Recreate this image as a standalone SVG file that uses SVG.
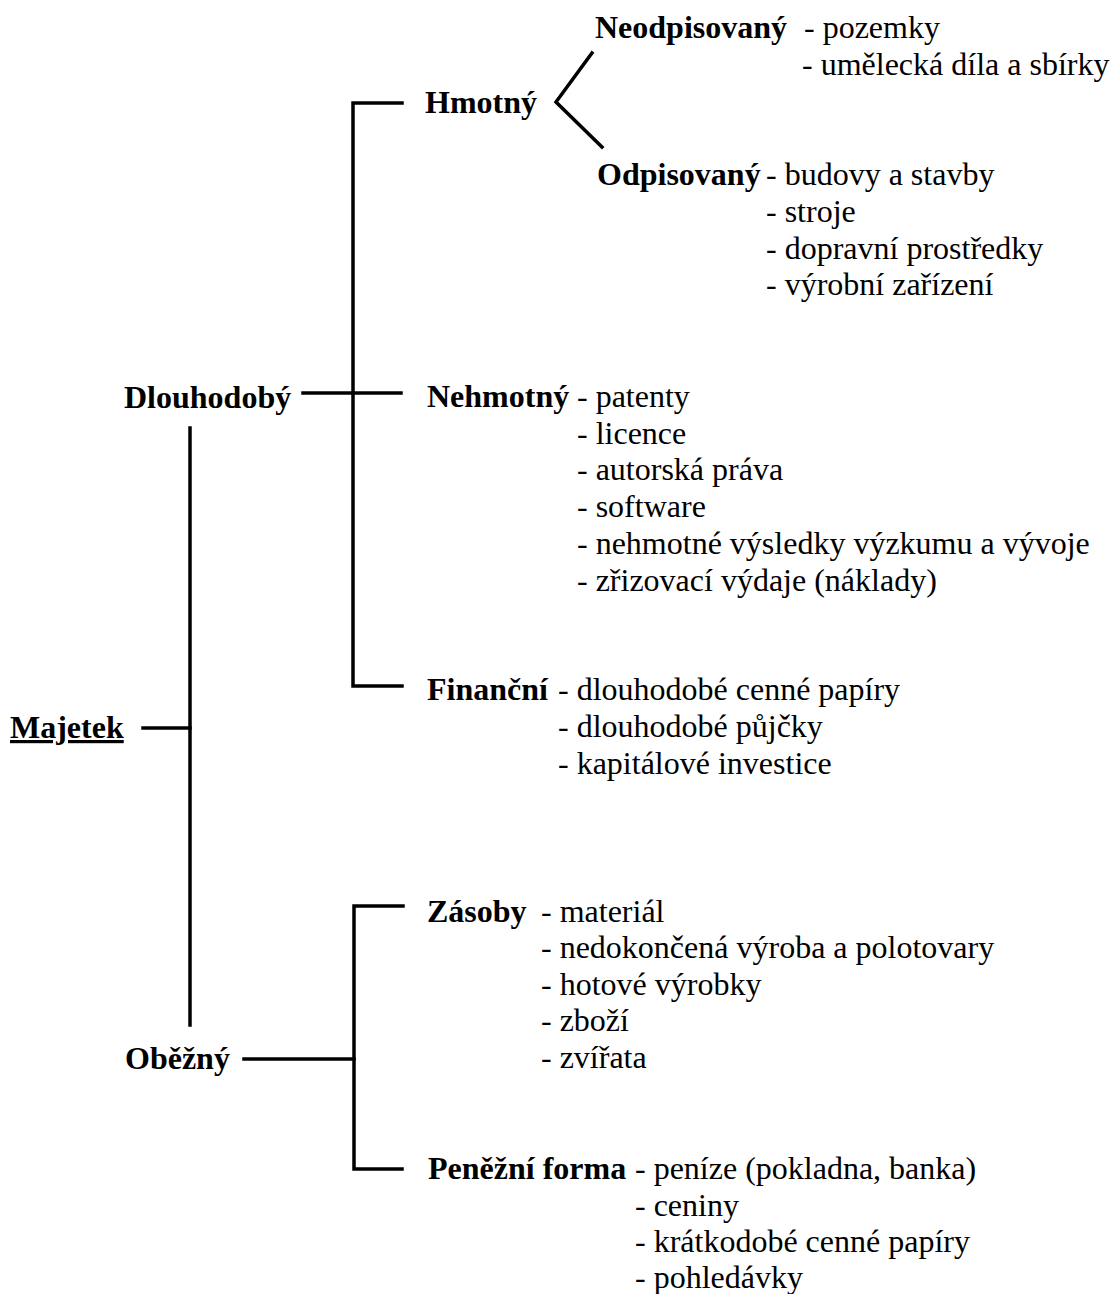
<svg xmlns="http://www.w3.org/2000/svg" width="1112" height="1294" viewBox="0 0 1112 1294">
<style>
text{font-family:"Liberation Serif","Times New Roman",serif;font-size:32px;fill:#000}
.b{font-weight:bold}
.c line,.c polyline{stroke:#000;stroke-width:3.5;fill:none;stroke-linecap:square}
</style>
<rect width="1112" height="1294" fill="#fff"/>
<g class="c" id="connectors">
<line x1="190" y1="428" x2="190" y2="1025"/>
<line x1="143" y1="728" x2="190" y2="728"/>
<line x1="303" y1="393" x2="401" y2="393"/>
<polyline points="402,103 353,103 353,686 402,686"/>
<polyline points="592,53 556,102 602,147"/>
<line x1="244" y1="1059" x2="354" y2="1059"/>
<polyline points="403,906 354,906 354,1169 402,1169"/>
</g>
<g id="majetek"><text x="10" y="738" class="b" text-decoration="underline">Majetek</text></g>
<g id="dlouhodoby"><text x="124" y="408" class="b">Dlouhodobý</text></g>
<g id="obezny"><text x="125" y="1069" class="b">Oběžný</text></g>
<g id="hmotny"><text x="425" y="113" class="b">Hmotný</text></g>
<g id="neodpisovany">
<text x="595" y="38" class="b">Neodpisovaný</text>
<text x="804" y="38">- pozemky</text>
<text x="802" y="75">- umělecká díla a sbírky</text>
</g>
<g id="odpisovany">
<text x="597" y="185" class="b">Odpisovaný</text>
<text x="766" y="185">- budovy a stavby</text>
<text x="766" y="222">- stroje</text>
<text x="766" y="259">- dopravní prostředky</text>
<text x="766" y="295">- výrobní zařízení</text>
</g>
<g id="nehmotny">
<text x="427" y="407" class="b">Nehmotný</text>
<text x="577" y="407">- patenty</text>
<text x="577" y="444">- licence</text>
<text x="577" y="480">- autorská práva</text>
<text x="577" y="517">- software</text>
<text x="577" y="554">- nehmotné výsledky výzkumu a vývoje</text>
<text x="577" y="591">- zřizovací výdaje (náklady)</text>
</g>
<g id="financni">
<text x="427" y="700" class="b">Finanční</text>
<text x="558" y="700">- dlouhodobé cenné papíry</text>
<text x="558" y="737">- dlouhodobé půjčky</text>
<text x="558" y="774">- kapitálové investice</text>
</g>
<g id="zasoby">
<text x="427" y="922" class="b">Zásoby</text>
<text x="541" y="922">- materiál</text>
<text x="541" y="958">- nedokončená výroba a polotovary</text>
<text x="541" y="995">- hotové výrobky</text>
<text x="541" y="1031">- zboží</text>
<text x="541" y="1068">- zvířata</text>
</g>
<g id="penezni">
<text x="428" y="1179" class="b">Peněžní forma</text>
<text x="635" y="1179">- peníze (pokladna, banka)</text>
<text x="635" y="1216">- ceniny</text>
<text x="635" y="1252">- krátkodobé cenné papíry</text>
<text x="635" y="1288">- pohledávky</text>
</g>
</svg>
